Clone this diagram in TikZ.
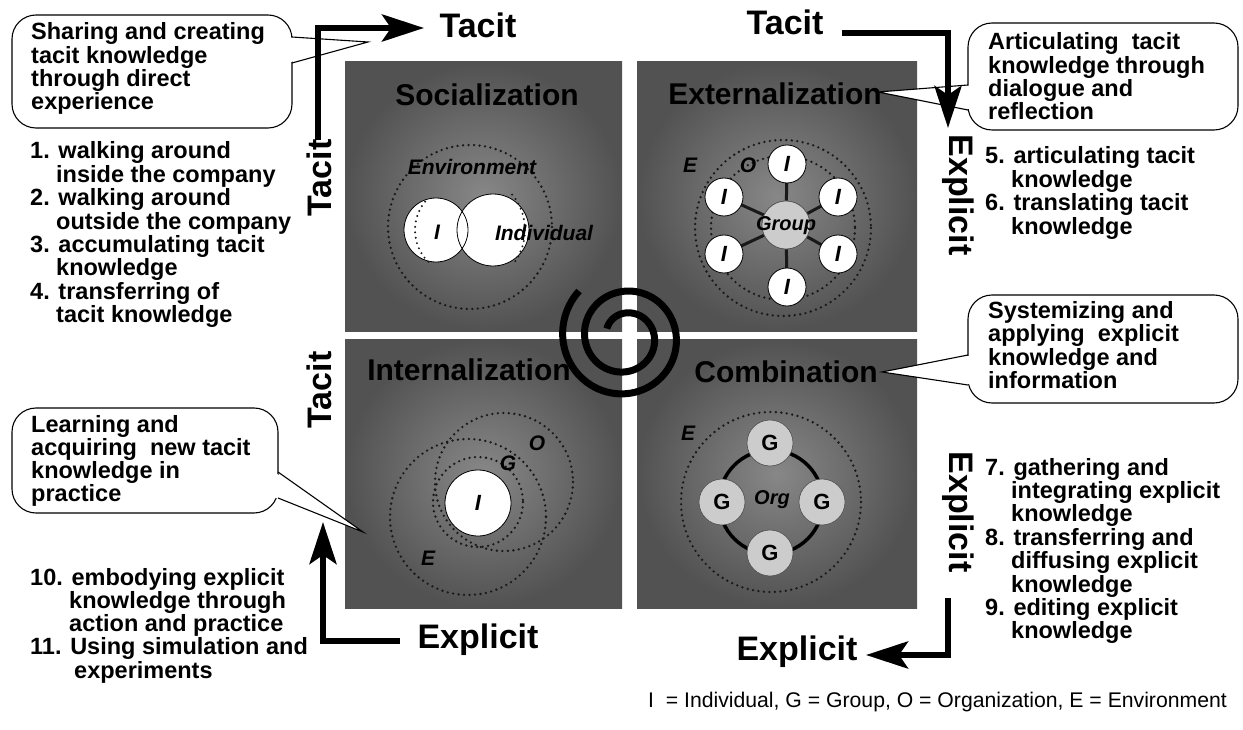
\documentclass[tikz,border=0pt]{standalone}
\usepackage{fontspec}
\setmainfont{Liberation Sans}
\usetikzlibrary{arrows.meta}
\begin{document}
\begin{tikzpicture}[x=1pt,y=-1pt,
  quadbg/.style={inner color=black!47, outer color=black!68},
  qtitle/.style={font=\bfseries\fontsize{30}{30}\selectfont, text=black, inner sep=0},
  axislbl/.style={font=\bfseries\fontsize{34}{34}\selectfont, inner sep=0},
  item/.style={font=\bfseries\fontsize{23.5}{23.5}\selectfont, anchor=base west, inner sep=0},
  bubble/.style={fill=white, draw=black, line width=1.1pt, rounded corners=24pt},
  flow/.style={line width=6pt, line join=miter, -{Stealth[length=42pt,width=27pt,inset=9pt]}},
  ring/.style={draw=black!90, line width=2.6pt, dash pattern=on 0pt off 5.5pt, line cap=round},
  member/.style={circle, draw=black, line width=0.8pt, fill=white, minimum size=38pt, inner sep=0,
                 font=\bfseries\itshape\fontsize{22}{22}\selectfont},
  unit/.style={circle, draw=black!70, line width=0.6pt, fill=black!20, minimum size=46pt, inner sep=0,
               font=\bfseries\fontsize{22}{22}\selectfont},
  tag/.style={font=\bfseries\itshape\fontsize{21}{21}\selectfont, text=black, inner sep=0},
]
\useasboundingbox (0,0) rectangle (1243,730);

% ---- the four quadrants ----
\shade[quadbg] (345,62) rectangle (622,331);
\shade[quadbg] (637,62) rectangle (917,331);
\shade[quadbg] (345,339) rectangle (622,608);
\shade[quadbg] (637,339) rectangle (917,608);

% ---- Socialization: two individuals inside the environment ----
\draw[ring] (470,227) circle (82);
\fill[white] (436,230) circle (32) (493,230) circle (36);
\draw[line width=0.8pt] (436,230) circle (32) (493,230) circle (36);
\draw[ring, line width=2.2pt] (460,230) ++(135:45) arc (135:225:45);
\draw[ring, line width=2.2pt] (470,230) ++(-40:55) arc (-40:40:55);
\node[tag] (s-env) at (472,167) {Environment};
\node[tag] (s-i) at (437,232) {I};
\node[tag] (s-ind) at (544,233) {Individual};

% ---- Externalization: individuals around a group ----
\draw[ring] (783,228) circle (88);
\draw[ring] (783,228) circle (72);
\foreach \px/\py [count=\k] in {787/164, 724/197, 838/197, 724/254, 838/254, 787/287}
  \coordinate (m\k) at (\px,\py);
\node[unit, minimum size=48pt] (grp) at (786,225) {};
\foreach \k in {1,...,6}
  \draw[line width=3pt, black!90] (grp) -- (m\k);
\node[unit, minimum size=48pt] (grp2) at (786,225) {};
\node[tag, font=\bfseries\itshape\fontsize{20}{20}\selectfont] (grp-t) at (786,226) {Group};
\foreach \k in {1,...,6}
  \node[member] (ind\k) at (m\k) {I};
\node[tag] (x-e) at (690,165) {E};
\node[tag] (x-o) at (748,165) {O};

% ---- Internalization: individual within group, organization, environment ----
\draw[ring] (468,517) circle (78);
\draw[ring] (504,482) circle (69);
\draw[ring] (478,502) circle (45);
\node[member, minimum size=66pt] (in-i) at (478,503) {I};
\node[tag] (in-g) at (508,463) {G};
\node[tag] (in-o) at (537,443) {O};
\node[tag] (in-e) at (428,558) {E};

% ---- Combination: groups around the organization ----
\draw[ring] (771,502) circle (90);
\draw[line width=3.5pt] (771,502) circle (52);
\node[unit] (g1) at (770,443) {G};
\node[unit] (g2) at (722,502) {G};
\node[unit] (g3) at (822,502) {G};
\node[unit] (g4) at (770,553) {G};
\node[tag, font=\bfseries\itshape\fontsize{20}{20}\selectfont] (org) at (772,500) {Org};
\node[tag] (c-e) at (688,433) {E};

% ---- spiral in the centre ----
\draw[line width=7pt] plot[domain=0:740, samples=180, smooth, variable=\t]
  ({625+(20+\t*0.0608)*cos(155-\t)}, {337-(20+\t*0.0608)*sin(155-\t)});

% ---- quadrant titles ----
\node[qtitle] (soc) at (487,95) {Socialization};
\node[qtitle] (ext) at (775,94) {Externalization};
\node[qtitle] (int) at (469,370) {Internalization};
\node[qtitle] (com) at (786,372) {Combination};

% ---- speech bubbles ----
\draw[bubble] (12,15) rectangle (292,128);
\fill[white] (289,37.5) -- (368,42) -- (289,62.5) -- cycle;
\draw[line width=1.1pt] (292,37) -- (368,42) -- (292,63);

\draw[bubble] (968,23) rectangle (1238,130);
\fill[white] (971,85.5) -- (878,92) -- (971,109.5) -- cycle;
\draw[line width=1.1pt] (968,85) -- (878,92) -- (968,110);

\draw[bubble] (968,295) rectangle (1238,403);
\fill[white] (971,355.5) -- (882,372) -- (971,384.5) -- cycle;
\draw[line width=1.1pt] (968,355) -- (882,372) -- (968,385);

\draw[bubble] (12,408) rectangle (278,513);
\fill[white] (275,472.5) -- (363,532) -- (275,497.5) -- cycle;
\draw[line width=1.1pt] (278,472) -- (363,532) -- (278,498);

\foreach \tx [count=\i] in {Sharing and creating, tacit knowledge, through direct, experience}
  \node[item] (tl\i) at (31,{40+23.3*(\i-1)}) {\tx};
\foreach \tx [count=\i] in {Articulating\ \ tacit, knowledge through, dialogue and, reflection}
  \node[item] (tr\i) at (988,{50+23.3*(\i-1)}) {\tx};
\foreach \tx [count=\i] in {Systemizing and, applying\ \ explicit, knowledge and, information}
  \node[item] (mr\i) at (988,{318+23.5*(\i-1)}) {\tx};
\foreach \tx [count=\i] in {Learning and, acquiring\ \ new tacit, knowledge in, practice}
  \node[item] (bl\i) at (31,{432+23.3*(\i-1)}) {\tx};

% ---- numbered lists ----
\foreach \xx/\tx [count=\i] in {30/1. walking around, 56/inside the company, 30/2. walking around,
    56/outside the company, 30/3. accumulating tacit, 56/knowledge, 30/4. transferring of, 56/tacit knowledge}
  \node[item] (la\i) at (\xx,{159+23.4*(\i-1)}) {\tx};
\foreach \xx/\tx [count=\i] in {985/5. articulating tacit, 1011/knowledge, 985/6. translating tacit, 1011/knowledge}
  \node[item] (ra\i) at (\xx,{164+23.5*(\i-1)}) {\tx};
\foreach \xx/\tx [count=\i] in {985/7. gathering and, 1011/integrating explicit, 1011/knowledge,
    985/8. transferring and, 1011/diffusing explicit, 1011/knowledge, 985/9. editing explicit, 1011/knowledge}
  \node[item] (rb\i) at (\xx,{475+23.4*(\i-1)}) {\tx};
\foreach \xx/\tx [count=\i] in {30/10. embodying explicit, 69/knowledge through, 69/action and practice,
    30/11. Using simulation and, 74/experiments}
  \node[item] (lb\i) at (\xx,{585+23.3*(\i-1)}) {\tx};

% ---- axis labels ----
\node[axislbl] (t-top1) at (478,25) {Tacit};
\node[axislbl] (t-top2) at (785,22) {Tacit};
\node[axislbl, rotate=90] (t-left1) at (319,178) {Tacit};
\node[axislbl, rotate=90] (t-left2) at (319,390) {Tacit};
\node[axislbl, rotate=-90] (e-right1) at (958,195) {Explicit};
\node[axislbl, rotate=-90] (e-right2) at (958,512) {Explicit};
\node[axislbl] (e-bot1) at (478,640) {Explicit};
\node[axislbl] (e-bot2) at (797,652) {Explicit};

% ---- conversion arrows ----
\coordinate (a1s) at (318,140); \coordinate (a1c) at (318,28); \coordinate (a1e) at (424,28);
\coordinate (a2s) at (842,33);  \coordinate (a2c) at (948,33); \coordinate (a2e) at (948,128);
\coordinate (a3s) at (948,598); \coordinate (a3c) at (948,655); \coordinate (a3e) at (866,655);
\coordinate (a4s) at (400,641); \coordinate (a4c) at (323,641); \coordinate (a4e) at (323,522);
\draw[flow] (a1s) -- (a1c) -- (a1e);
\draw[flow] (a2s) -- (a2c) -- (a2e);
\draw[flow] (a3s) -- (a3c) -- (a3e);
\draw[flow] (a4s) -- (a4c) -- (a4e);

% ---- legend ----
\node[anchor=base west, inner sep=0, font=\fontsize{21.2}{21.2}\selectfont] (legend) at (648,707)
  {I\ \ = Individual, G = Group, O = Organization, E = Environment};
\end{tikzpicture}
\end{document}
